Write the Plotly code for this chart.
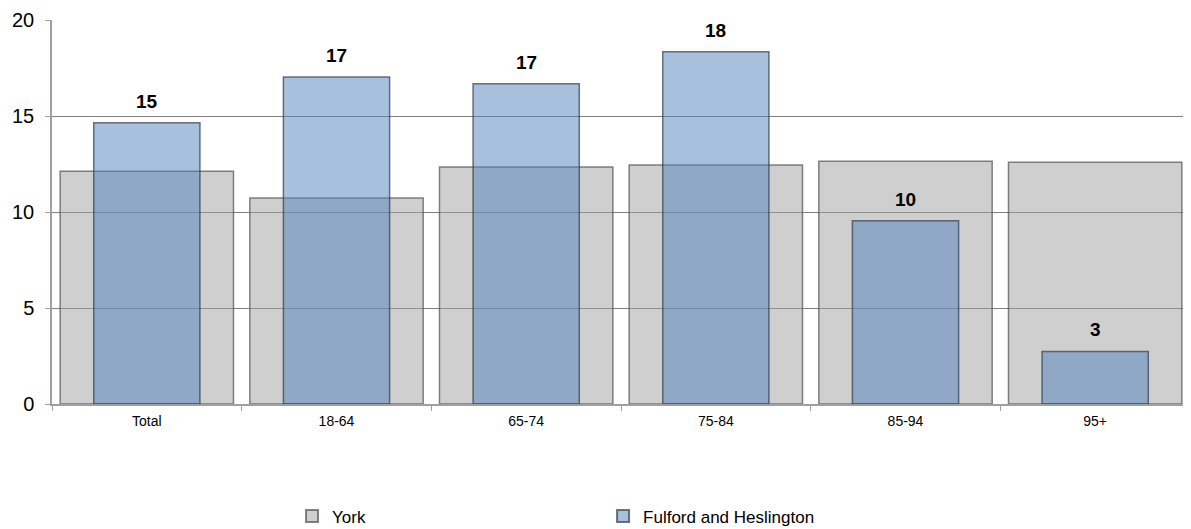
import plotly.graph_objects as go

categories = ["Total", "18-64", "65-74", "75-84", "85-94", "95+"]
york = [12.12, 10.73, 12.34, 12.45, 12.64, 12.59]
fulford = [14.65, 17.03, 16.68, 18.35, 9.55, 2.74]
fulford_labels = ["15", "17", "17", "18", "10", "3"]

fig = go.Figure()
fig.add_trace(go.Bar(
    x=categories, y=york, name="York", width=0.914,
    marker=dict(color="rgba(160,160,160,0.5)", line=dict(color="rgba(90,90,90,0.75)", width=1.5)),
))
fig.add_trace(go.Bar(
    x=categories, y=fulford, name="Fulford and Heslington", width=0.56,
    marker=dict(color="rgba(79,129,189,0.5)", line=dict(color="rgba(50,60,80,0.7)", width=1.5)),
))

for c, v, t in zip(categories, fulford, fulford_labels):
    fig.add_annotation(x=c, y=v, text="<b>%s</b>" % t, showarrow=False,
                       yanchor="bottom", yshift=9,
                       font=dict(family="Liberation Sans, Arial", size=19, color="#000"))

fig.update_layout(
    width=1191, height=529,
    barmode="overlay",
    plot_bgcolor="white", paper_bgcolor="white",
    margin=dict(l=44, r=9, t=12, b=133, autoexpand=False),
    font=dict(family="Liberation Sans, Arial", color="#000"),
    showlegend=True,
    legend=dict(orientation="h", xref="container", yref="container",
                x=0.2385, y=0.005, xanchor="left", yanchor="bottom",
                entrywidth=266, entrywidthmode="pixels", itemwidth=30,
                font=dict(size=17), itemsizing="constant"),
    xaxis=dict(showgrid=False, showline=True, linecolor="#a0a0a0", linewidth=1.5,
               ticks="outside", tickson="boundaries", ticklen=5, tickcolor="#a0a0a0",
               tickfont=dict(size=14), range=[-0.5, 5.5], automargin=False,
               ticklabelstandoff=3),
    yaxis=dict(range=[0, 20], dtick=5, showgrid=True, gridcolor="#808080", gridwidth=1,
               showline=True, linecolor="#a0a0a0", linewidth=1.5,
               ticks="outside", ticklen=5, tickcolor="#a0a0a0",
               tickfont=dict(size=20), zeroline=False, automargin=False,
               ticklabelstandoff=7),
)

fig.write_html("out.html")
